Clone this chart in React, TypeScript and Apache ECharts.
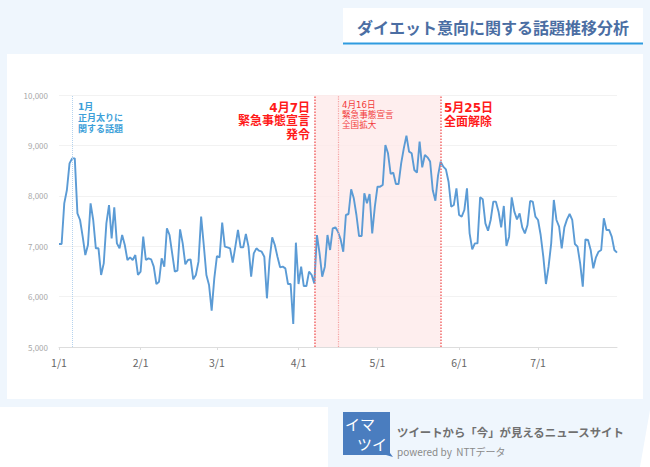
import React, { useEffect, useRef } from "react";
import * as echarts from "echarts";

const monthLengths = [31, 29, 31, 30, 31, 30, 31];
const jan = [7044, 7044, 7850, 8115, 8644, 8743, 8743, 7652, 7520, 7189, 6825, 7024, 7850, 7520, 6958, 6958, 6429, 6660, 7454, 7817, 7156, 7771, 7057, 6958, 7222, 7024, 6726, 6779, 6726, 6825, 6429];
const feb = [6495, 7189, 6726, 6759, 6740, 6594, 6250, 6296, 6759, 6594, 7354, 7222, 6858, 6495, 6514, 7335, 7057, 6640, 6726, 6740, 6343, 6429, 6693, 7586, 7024, 6429, 6230, 5721, 6362];
const mar = [6805, 6779, 7467, 6991, 6978, 6958, 6673, 6991, 7322, 6978, 6978, 7242, 6991, 6395, 6858, 6958, 6911, 6891, 6792, 5966, 6726, 7176, 7024, 6792, 6581, 6594, 6561, 6250, 6250, 5456, 7070];
const apr = [6250, 6594, 6210, 6210, 6495, 6429, 6263, 7222, 6858, 6395, 6594, 7222, 6925, 7354, 7374, 7288, 7136, 6891, 7619, 7639, 8128, 7950, 7619, 7202, 7202, 8049, 7850, 8036, 7255, 7784];
const may = [8181, 8181, 8214, 9008, 8843, 8433, 8459, 8234, 8234, 8644, 8942, 9193, 8876, 8843, 8512, 8459, 9074, 8565, 8810, 8763, 8680, 8110, 7903, 8400, 8677, 8578, 8525, 8280, 7784, 7817, 8148];
const jun = [7619, 7586, 7718, 8148, 7255, 6938, 7057, 7057, 7970, 7930, 7454, 7308, 7520, 7884, 7884, 7685, 7374, 7798, 7004, 7189, 7970, 7685, 7533, 7652, 7374, 7255, 7421, 7897, 7884, 7586];
const jul = [7520, 7222, 6792, 6250, 6594, 7057, 7917, 7520, 7388, 6958, 7374, 7533, 7639, 7520, 7044, 6991, 6660, 6197, 7136, 7123, 6925, 6561, 6779, 6891, 6925, 7553, 7322, 7322, 7189, 6925, 6872];

const yMin = 5000;
const yMax = 10000;
const yInterval = 1000;

const blueMarker = "1/6";
const redMarkers = ["4/7", "4/16", "5/25"];
const shadeRange = ["4/7", "5/25"];

const titleText = "ダイエット意向に関する話題推移分析";
const tagline = "ツイートから「今」が見えるニュースサイト";
const poweredBy = "powered by  NTTデータ";
const noteJan = ["1月", "正月太りに", "関する話題"];
const noteApr7 = ["4月7日", "緊急事態宣言", "発令"];
const noteApr16 = ["4月16日", "緊急事態宣言", "全国拡大"];
const noteMay25 = ["5月25日", "全面解除"];

const values = [...jan, ...feb, ...mar, ...apr, ...may, ...jun, ...jul];
const categories: string[] = [];
monthLengths.forEach((n, i) => {
  for (let d = 1; d <= n; d++) categories.push(`${i + 1}/${d}`);
});

const JP = '"Noto Sans CJK JP", "Noto Sans", sans-serif';
const TIGHT = '"DejaVu Sans", "Noto Sans CJK JP", sans-serif';

function lines(
  texts: string[],
  x: number,
  y0: number,
  step: number,
  font: string,
  fill: string,
  align: string
) {
  return texts.map((t, i) => ({
    type: "text",
    z: 10,
    x,
    y: y0 + i * step,
    style: { text: t, fill, font, align, verticalAlign: "middle" },
  }));
}

export default function App() {
  const ref = useRef<HTMLDivElement>(null);
  useEffect(() => {
    if (!ref.current) return;
    const chart = echarts.init(ref.current, undefined, { renderer: "svg" });
    const isMonthStart = (_i: number, v: string) => v.endsWith("/1");
    const red = "#ff1a1a";
    chart.setOption({
      animation: false,
      textStyle: { fontFamily: JP },
      grid: { left: 59, right: 33, top: 95, bottom: 120 },
      xAxis: {
        type: "category",
        data: categories,
        boundaryGap: false,
        axisLine: { lineStyle: { color: "#dddddd" } },
        axisTick: { interval: isMonthStart, length: 3, lineStyle: { color: "#dddddd" } },
        axisLabel: { interval: isMonthStart, color: "#666666", fontSize: 10.5, margin: 10, fontFamily: JP },
      },
      yAxis: {
        type: "value",
        min: yMin,
        max: yMax,
        interval: yInterval,
        axisLine: { show: false },
        axisTick: { show: false },
        splitLine: { lineStyle: { color: "#f2f2f2" } },
        axisLabel: {
          color: "#a8a8a8",
          fontSize: 8,
          margin: 11,
          formatter: (v: number) => v.toLocaleString("en-US"),
        },
      },
      series: [
        {
          type: "line",
          data: values,
          showSymbol: false,
          lineStyle: { color: "#5b9bd5", width: 1.9 },
          z: 3,
          markArea: {
            silent: true,
            itemStyle: { color: "rgba(253,232,232,0.75)" },
            data: [[{ xAxis: shadeRange[0] }, { xAxis: shadeRange[1] }]],
          },
          markLine: {
            silent: true,
            symbol: "none",
            label: { show: false },
            data: [
              { xAxis: blueMarker, lineStyle: { color: "#b5d3ee", type: "dotted", width: 1 } },
              { xAxis: redMarkers[0], lineStyle: { color: "#f26b6b", type: "dotted", width: 1.5 } },
              { xAxis: redMarkers[1], lineStyle: { color: "#f5a3a3", type: "dotted", width: 1.2 } },
              { xAxis: redMarkers[2], lineStyle: { color: "#f26b6b", type: "dotted", width: 1.5 } },
            ],
          },
        },
      ],
      graphic: [
        { type: "rect", z: -20, silent: true, shape: { x: 0, y: 0, width: 650, height: 407 }, style: { fill: "#eff6fd" } },
        { type: "polygon", z: -20, silent: true, shape: { points: [[328, 407], [650, 407], [650, 410], [640, 467], [328, 467]] }, style: { fill: "#eff6fd" } },
        { type: "rect", z: -10, silent: true, shape: { x: 7, y: 54, width: 636, height: 345 }, style: { fill: "#ffffff" } },
        { type: "rect", z: -10, silent: true, shape: { x: 343, y: 8, width: 300, height: 35 }, style: { fill: "#ffffff" } },
        { type: "line", z: -5, silent: true, shape: { x1: 343, y1: 43.5, x2: 643, y2: 43.5 }, style: { stroke: "#2e9be0", lineWidth: 2 } },
        { type: "text", z: 10, x: 493, y: 27, style: { text: titleText, fill: "#4b6ea3", font: `bold 16px ${JP}`, align: "center", verticalAlign: "middle" } },
        // annotations
        ...lines(noteJan, 78, 107, 10.8, `bold 9px ${TIGHT}`, "#3d9fd9", "left"),
        ...lines(noteApr7, 310, 107.5, 13.8, `bold 12px ${TIGHT}`, red, "right"),
        ...lines(noteApr16, 342, 104.5, 10, `8.6px ${TIGHT}`, "#f23a3a", "left"),
        ...lines(noteMay25, 444, 108, 14, `bold 12px ${TIGHT}`, red, "left"),
        // logo
        { type: "polygon", z: 5, silent: true, shape: { points: [[343, 412], [390, 412], [390, 453], [393, 457], [386, 455], [343, 455]] }, style: { fill: "#4a7dbf" } },
        { type: "text", z: 10, x: 345, y: 423, style: { text: "イマ", fill: "#ffffff", font: `15px ${JP}`, align: "left", verticalAlign: "middle" } },
        { type: "text", z: 10, x: 357, y: 443, style: { text: "ツイ", fill: "#ffffff", font: `15px ${JP}`, align: "left", verticalAlign: "middle" } },
        { type: "text", z: 10, x: 397, y: 432, style: { text: tagline, fill: "#707070", font: `bold 11.4px ${JP}`, align: "left", verticalAlign: "middle" } },
        { type: "text", z: 10, x: 397, y: 451, style: { text: poweredBy, fill: "#8a8a8a", font: `10px ${JP}`, align: "left", verticalAlign: "middle" } },
      ],
    });
    return () => chart.dispose();
  }, []);
  return (
    <div
      ref={ref}
      style={{ position: "fixed", left: 0, top: 0, width: 650, height: 467, background: "#ffffff" }}
    />
  );
}
